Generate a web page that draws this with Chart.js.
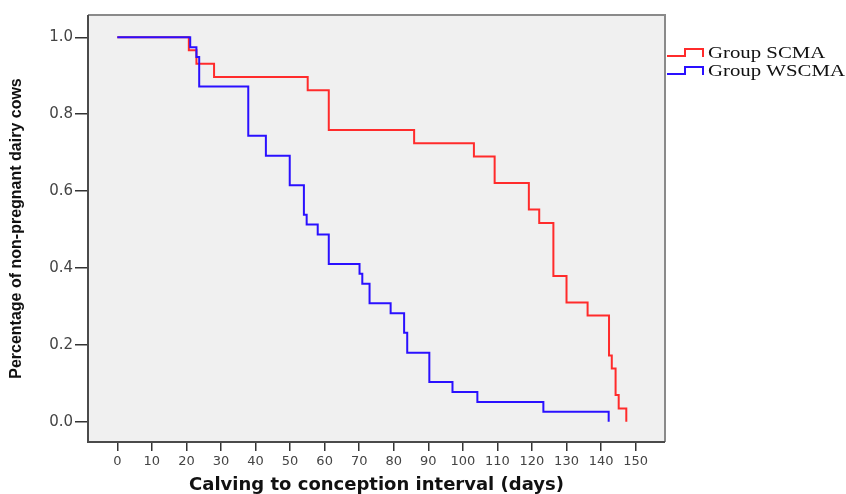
<!DOCTYPE html>
<html>
<head>
<meta charset="utf-8">
<script src="https://cdn.jsdelivr.net/npm/chart.js@4"></script>
<style>
  html, body { margin: 0; padding: 0; background: #fff; }
  #wrap { width: 846px; height: 494px; }
</style>
</head>
<body>
<div id="wrap"><canvas id="chart" width="846" height="494"></canvas></div>
<script>
// Kaplan-Meier steps
const scmaDays = [0, 20.7, 22.9, 28.0, 55.1, 61.2, 85.9, 103.2, 109.2, 119.1, 122.1, 126.2, 130.0, 136.1, 142.3, 143.1, 144.2, 145.1, 147.3];
const scmaSurv = [1.0, 0.966, 0.931, 0.897, 0.862, 0.759, 0.724, 0.690, 0.621, 0.552, 0.517, 0.379, 0.310, 0.276, 0.172, 0.138, 0.069, 0.034, 0.0];
const wscmaDays = [0, 21.1, 22.9, 23.7, 37.9, 43.0, 49.9, 54.0, 54.8, 58.0, 61.2, 70.1, 70.9, 73.0, 79.1, 83.0, 83.9, 90.3, 97.0, 104.2, 123.3, 142.2];
const wscmaSurv = [1.0, 0.974, 0.949, 0.872, 0.744, 0.692, 0.615, 0.538, 0.513, 0.487, 0.410, 0.385, 0.359, 0.308, 0.282, 0.231, 0.179, 0.103, 0.077, 0.051, 0.026, 0.0];
const xTicks = [0, 10, 20, 30, 40, 50, 60, 70, 80, 90, 100, 110, 120, 130, 140, 150];
const yTicks = [0.0, 0.2, 0.4, 0.6, 0.8, 1.0];
const seriesNames = ["Group SCMA", "Group WSCMA"];

const RED = "#ff2b2b";
const BLUE = "#2a10ff";

function toPoints(days, surv) {
    return days.map((d, i) => ({ x: d, y: surv[i] }));
}

const plotFrame = {
    id: "plotFrame",
    beforeDatasetsDraw(chart) {
        const { ctx, chartArea: a } = chart;
        ctx.save();
        ctx.fillStyle = "#f0f0f0";
        ctx.fillRect(a.left, a.top, a.right - a.left, a.bottom - a.top);
        ctx.restore();
    },
    afterDraw(chart) {
        const { ctx, chartArea: a } = chart;
        ctx.save();
        ctx.lineWidth = 2;
        ctx.strokeStyle = "#8a8a8a";
        ctx.beginPath();
        ctx.moveTo(a.left, a.top);
        ctx.lineTo(a.right, a.top);
        ctx.lineTo(a.right, a.bottom);
        ctx.stroke();
        ctx.strokeStyle = "#4a4a4a";
        ctx.beginPath();
        ctx.moveTo(a.left, a.top);
        ctx.lineTo(a.left, a.bottom);
        ctx.lineTo(a.right, a.bottom);
        ctx.stroke();
        ctx.restore();
    }
};

const stepLegend = {
    id: "stepLegend",
    afterDraw(chart) {
        const { ctx } = chart;
        const colors = [RED, BLUE];
        ctx.save();
        seriesNames.forEach((name, i) => {
            const yLow = 56 + i * 18, yHigh = 49 + i * 18;
            ctx.strokeStyle = colors[i];
            ctx.lineWidth = 2;
            ctx.beginPath();
            ctx.moveTo(667, yLow);
            ctx.lineTo(685, yLow);
            ctx.lineTo(685, yHigh);
            ctx.lineTo(703, yHigh);
            ctx.lineTo(703, yLow + 1);
            ctx.stroke();
            ctx.save();
            ctx.translate(708, 54 + i * 18);
            ctx.scale(1.3, 1);
            ctx.fillStyle = "#111";
            ctx.font = "16px 'Liberation Serif', 'Times New Roman', serif";
            ctx.textBaseline = "middle";
            ctx.fillText(name, 0, 0);
            ctx.restore();
        });
        ctx.restore();
    }
};

new Chart(document.getElementById("chart"), {
    type: "line",
    data: {
        datasets: [
            {
                label: seriesNames[0],
                data: toPoints(scmaDays, scmaSurv),
                borderColor: RED,
                borderWidth: 2,
                stepped: "before",
                pointRadius: 0,
                fill: false,
                order: 2
            },
            {
                label: seriesNames[1],
                data: toPoints(wscmaDays, wscmaSurv),
                borderColor: BLUE,
                borderWidth: 2,
                stepped: "before",
                pointRadius: 0,
                fill: false,
                order: 1
            }
        ]
    },
    options: {
        responsive: false,
        animation: false,
        layout: { padding: { left: 0, top: 15, right: 181, bottom: 0 } },
        plugins: {
            legend: { display: false },
            tooltip: { enabled: false }
        },
        scales: {
            x: {
                type: "linear",
                min: -8.48,
                max: 158.5,
                afterBuildTicks(scale) { scale.ticks = xTicks.map(v => ({ value: v })); },
                afterFit(scale) { scale.height = 52; },
                border: { display: false },
                grid: { drawOnChartArea: false, drawTicks: true, tickLength: 9, color: "#333", lineWidth: 1.5 },
                ticks: {
                    color: "#444",
                    padding: 3,
                    maxRotation: 0,
                    autoSkip: false,
                    font: { family: "'DejaVu Sans', Verdana, sans-serif", size: 13 }
                },
                title: {
                    display: true,
                    text: "Calving to conception interval (days)",
                    color: "#111",
                    padding: { top: 0, bottom: 0 },
                    font: { family: "'DejaVu Sans', Verdana, sans-serif", size: 18, weight: "bold", lineHeight: 1 }
                }
            },
            y: {
                type: "linear",
                min: -0.053,
                max: 1.058,
                afterBuildTicks(scale) { scale.ticks = yTicks.map(v => ({ value: v })); },
                afterFit(scale) { scale.width = 88; },
                border: { display: false },
                grid: { drawOnChartArea: false, drawTicks: true, tickLength: 13, color: "#333", lineWidth: 1.5 },
                ticks: {
                    color: "#444",
                    padding: 2,
                    callback: v => v.toFixed(1),
                    font: { family: "'DejaVu Sans', Verdana, sans-serif", size: 15 }
                },
                title: {
                    display: true,
                    text: "Percentage of non-pregnant dairy cows",
                    color: "#111",
                    padding: { top: 9, bottom: 0 },
                    font: { family: "'Liberation Sans Narrow', 'Arial Narrow', 'Liberation Sans', sans-serif", size: 16, weight: "bold", lineHeight: 1 }
                }
            }
        }
    },
    plugins: [plotFrame, stepLegend]
});
</script>
</body>
</html>
